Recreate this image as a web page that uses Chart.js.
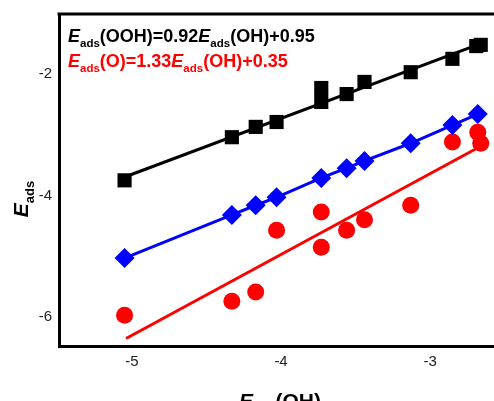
<!DOCTYPE html>
<html>
<head>
<meta charset="utf-8">
<script src="https://cdn.jsdelivr.net/npm/chart.js@4.4.1/dist/chart.umd.min.js"></script>
<style>
  html, body { margin: 0; padding: 0; background: #fff; overflow: hidden; }
  #wrap { position: relative; width: 494px; height: 401px; }
</style>
</head>
<body>
<div id="wrap"><canvas id="scaling"></canvas></div>
<script>
// --- data ---
const xTicks = [-5, -4, -3];
const yTicks = [-6, -4, -2];

// E_ads(OOH) vs E_ads(OH) (black squares)
const oohX = [-5.05, -4.33, -4.17, -4.03, -3.73, -3.73, -3.56, -3.44, -3.13, -2.85, -2.69, -2.66];
const oohY = [-3.75, -3.04, -2.87, -2.79, -2.23, -2.46, -2.33, -2.13, -1.97, -1.75, -1.54, -1.52];

// E_ads(OH) vs E_ads(OH) (blue diamonds)
const ohX = [-5.05, -4.33, -4.17, -4.03, -3.73, -3.56, -3.44, -3.13, -2.85, -2.68];
const ohY = [-5.03, -4.32, -4.16, -4.03, -3.71, -3.55, -3.43, -3.14, -2.84, -2.66];

// E_ads(O) vs E_ads(OH) (red circles)
const oX = [-5.05, -4.33, -4.17, -4.03, -3.73, -3.73, -3.56, -3.44, -3.13, -2.85, -2.68, -2.66];
const oY = [-5.97, -5.74, -5.59, -4.57, -4.27, -4.85, -4.57, -4.40, -4.16, -3.12, -2.96, -3.14];

// fitted lines [slope, intercept] and the x span they cover
const oohFit = [0.92, 0.95];
const oFit = [1.33, 0.35];
const fitSpan = [-5.04, -2.67];

const pts = (xs, ys) => xs.map((x, i) => ({ x: x, y: ys[i] }));
const fitLine = (f) => fitSpan.map(x => ({ x: x, y: f[0] * x + f[1] }));

const FONT = '"Liberation Sans", Arial, Helvetica, sans-serif';

// draws text made of pieces with different fonts / offsets
function drawRich(ctx, parts, x, y, color) {
    ctx.fillStyle = color;
    ctx.textBaseline = 'alphabetic';
    ctx.textAlign = 'left';
    let cx = x;
    parts.forEach(p => {
        ctx.font = p.font;
        ctx.fillText(p.t, cx, y + (p.dy || 0));
        cx += ctx.measureText(p.t).width;
    });
    return cx - x;
}
function richWidth(ctx, parts) {
    let w = 0;
    parts.forEach(p => { ctx.font = p.font; w += ctx.measureText(p.t).width; });
    return w;
}

const E = { t: 'E', font: 'italic bold 18px ' + FONT };
const sub = { t: 'ads', font: 'bold 11.5px ' + FONT, dy: 5 };
const b18 = t => ({ t: t, font: 'bold 18px ' + FONT });

const textPlugin = {
    id: 'labels',
    afterDraw(chart) {
        const ctx = chart.ctx;
        const a = chart.chartArea;
        ctx.save();
        // top frame line
        ctx.strokeStyle = '#000';
        ctx.lineWidth = 3;
        ctx.beginPath();
        ctx.moveTo(a.left - 1.5, a.top);
        ctx.lineTo(chart.width, a.top);
        ctx.stroke();

        // equations
        drawRich(ctx, [E, sub, b18('(OOH)=0.92'), E, sub, b18('(OH)+0.95')], 68, 42, '#000');
        drawRich(ctx, [E, sub, b18('(O)=1.33'), E, sub, b18('(OH)+0.35')], 68, 67, '#f00');

        // x axis title
        const bigE = { t: 'E', font: 'italic bold 21px ' + FONT };
        const bigSub = { t: 'ads', font: 'bold 13px ' + FONT, dy: 6 };
        const xt = [bigE, bigSub, { t: '(OH)', font: 'bold 21px ' + FONT }];
        const w = richWidth(ctx, xt);
        drawRich(ctx, xt, 280 - w / 2, 408, '#000');

        // y axis title (rotated)
        const yt = [bigE, bigSub];
        const wy = richWidth(ctx, yt);
        ctx.translate(28, 199);
        ctx.rotate(-Math.PI / 2);
        drawRich(ctx, yt, -wy / 2, 0, '#000');
        ctx.restore();
    }
};

const ctx = document.getElementById('scaling').getContext('2d');
new Chart(ctx, {
    type: 'scatter',
    data: {
        datasets: [
            {
                label: 'OOH',
                data: pts(oohX, oohY),
                pointStyle: 'rect',
                pointRadius: 10,
                backgroundColor: '#000',
                borderColor: '#000',
                borderWidth: 0
            },
            {
                label: 'OOH fit',
                data: fitLine(oohFit),
                showLine: true,
                pointRadius: 0,
                borderColor: '#000',
                borderWidth: 3
            },
            {
                label: 'OH',
                data: pts(ohX, ohY),
                showLine: true,
                pointStyle: 'rectRot',
                pointRadius: 10,
                backgroundColor: '#0000ff',
                borderColor: '#0000ff',
                pointBorderWidth: 0,
                borderWidth: 3
            },
            {
                label: 'O fit',
                data: fitLine(oFit),
                showLine: true,
                pointRadius: 0,
                borderColor: '#f00',
                borderWidth: 3
            },
            {
                label: 'O',
                data: pts(oX, oY),
                pointStyle: 'circle',
                pointRadius: 8.5,
                backgroundColor: '#f00',
                borderColor: '#f00',
                borderWidth: 0
            }
        ]
    },
    options: {
        responsive: true,
        maintainAspectRatio: false,
        animation: false,
        layout: { autoPadding: false, padding: { top: 14, right: 0, left: 0, bottom: 0 } },
        plugins: {
            legend: { display: false },
            tooltip: { enabled: false }
        },
        scales: {
            x: {
                type: 'linear',
                min: -5.49,
                max: -2.571,
                afterBuildTicks: s => { s.ticks = xTicks.map(v => ({ value: v })); },
                afterFit: s => { s.height = 55; s.paddingLeft = 0; s.paddingRight = 0; },
                grid: { display: false, drawTicks: false },
                border: { display: true, color: '#000', width: 3 },
                ticks: { color: '#222', font: { family: FONT, size: 15 }, padding: 7, maxRotation: 0 }
            },
            y: {
                type: 'linear',
                min: -6.477,
                max: -1.012,
                afterBuildTicks: s => { s.ticks = yTicks.map(v => ({ value: v })); },
                afterFit: s => { s.width = 59; s.paddingTop = 0; s.paddingBottom = 0; },
                grid: { display: false, drawTicks: false },
                border: { display: true, color: '#000', width: 3 },
                ticks: { color: '#222', font: { family: FONT, size: 15 }, padding: 7 }
            }
        }
    },
    plugins: [textPlugin]
});
</script>
</body>
</html>
